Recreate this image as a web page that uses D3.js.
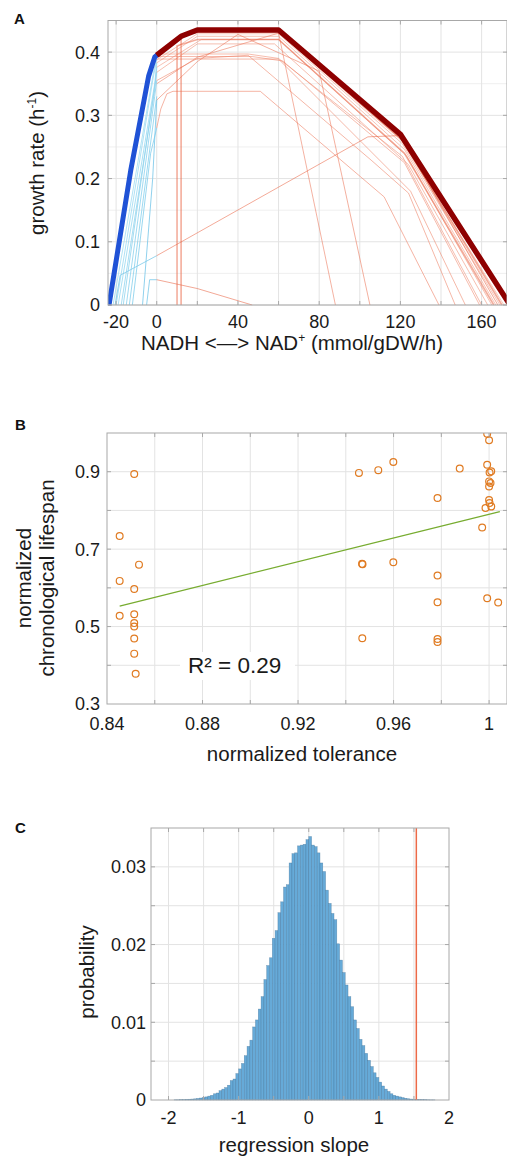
<!DOCTYPE html>
<html>
<head>
<meta charset="utf-8">
<script src="https://cdn.jsdelivr.net/npm/d3@7"></script>
<style>
  body { margin: 0; background: #fff; }
  svg { display: block; font-family: "Liberation Sans", Arial, Helvetica, sans-serif; }
</style>
</head>
<body>
<svg id="fig" width="507" height="1158"></svg>
<script>
// ---- Panel A: growth rate vs NADH <-> NAD+ exchange ----
const aTicksX = [-20, 0, 40, 80, 120, 160];
const aTicksY = [0, 0.1, 0.2, 0.3, 0.4];
const thickBlue = [[-23.5, 0], [-12.8, 0.213], [-4, 0.362], [-1, 0.392], [0, 0.395]];
const thickRed = [[0, 0.395], [12, 0.425], [20, 0.435], [60, 0.435], [120, 0.27], [174, 0]];
const blueTraces = [
  [[-21.5, 0], [-1.5, 0.37], [0, 0.392]],
  [[-20, 0], [-2, 0.355], [0, 0.388]],
  [[-19, 0], [-1, 0.35], [0, 0.383]],
  [[-17.5, 0], [-1, 0.34], [0, 0.376]],
  [[-16.5, 0], [0, 0.368]],
  [[-15, 0], [-1, 0.33], [0, 0.355]],
  [[-13.5, 0], [0, 0.33]],
  [[-12, 0], [-3, 0.24], [0, 0.28]],
  [[-20.5, 0], [-18, 0.047], [0, 0.078]],
  [[-5, 0], [-3.5, 0.04], [0, 0.04]],
  [[-7, 0], [-2, 0.2], [0, 0.324]]
];
const redTraces = [
  [[0, 0.392], [12, 0.423], [20, 0.433], [60, 0.433], [120, 0.263], [171, 0]],
  [[0, 0.388], [20, 0.429], [60, 0.429], [121, 0.255], [169, 0]],
  [[0, 0.383], [20, 0.425], [60, 0.425], [122, 0.246], [167, 0]],
  [[0, 0.376], [22, 0.42], [60, 0.42], [123, 0.236], [165, 0]],
  [[0, 0.368], [20, 0.413], [58, 0.413], [124, 0.222], [163, 0]],
  [[0, 0.397], [45, 0.397], [60, 0.39], [121, 0.235], [160, 0]],
  [[0, 0.393], [47, 0.393], [62, 0.386], [122, 0.225], [159, 0]],
  [[0, 0.389], [60, 0.389], [125, 0.18], [152, 0]],
  [[0, 0.355], [20, 0.39], [45, 0.395], [106, 0.228], [124, 0.177], [147, 0]],
  [[0, 0.28], [2, 0.31], [5, 0.334], [8, 0.338], [51, 0.338], [112, 0.171], [139, 0]],
  [[0, 0.35], [20, 0.392], [60, 0.43], [88, 0]],
  [[0, 0.324], [20, 0.385], [40, 0.428], [80, 0.37], [105, 0]],
  [[10, 0], [10, 0.41], [20, 0.42], [60, 0.42], [122, 0.24], [166, 0]],
  [[12, 0], [12, 0.425], [20, 0.432], [60, 0.432], [121, 0.26], [170, 0]],
  [[0, 0.078], [104, 0.266], [120, 0.268], [168, 0]],
  [[0, 0.04], [20, 0.026], [47, 0]]
];

// ---- Panel B: lifespan vs tolerance ----
const bTicksX = [0.84, 0.88, 0.92, 0.96, 1];
const bTicksY = [0.3, 0.5, 0.7, 0.9];
const tolerance = [
  0.8514, 0.8453, 0.8534, 0.8453, 0.8514, 0.8453, 0.8514, 0.8514, 0.8514, 0.8514, 0.8514, 0.8520,
  0.9455, 0.9536, 0.9599, 0.9468, 0.9470, 0.9599, 0.9469,
  0.9784, 0.9784, 0.9784, 0.9784, 0.9784, 0.9877,
  0.9992, 1.0000, 0.9992, 1.0002, 1.0009, 1.0000, 1.0006, 1.0000, 1.0000, 1.0002, 0.9985, 1.0009,
  0.9971, 0.9992, 1.0038
];
const lifespan = [
  0.894, 0.734, 0.660, 0.618, 0.597, 0.528, 0.532, 0.509, 0.500, 0.469, 0.430, 0.378,
  0.897, 0.904, 0.925, 0.662, 0.661, 0.666, 0.470,
  0.832, 0.632, 0.563, 0.468, 0.460, 0.908,
  0.998, 0.981, 0.918, 0.898, 0.901, 0.875, 0.871, 0.862, 0.827, 0.819, 0.806, 0.810,
  0.756, 0.573, 0.562
];
const fitX = [0.8453, 1.0045];
const fitY = [0.553, 0.797];
const rSquared = 0.29;

// ---- Panel C: permutation distribution of regression slope ----
const cTicksX = [-2, -1, 0, 1, 2];
const cTicksY = [0, 0.01, 0.02, 0.03];
const binStart = -1.92;
const binWidth = 0.04;
const slopeProb = [
  0.00003, 0.00003, 0.00005, 0.00005, 0.00008, 0.0001, 0.00012, 0.00015, 0.0002, 0.00025,
  0.0003, 0.0004, 0.0005, 0.0006, 0.0008, 0.0009, 0.0012, 0.0014, 0.0016, 0.0019,
  0.0025, 0.0027, 0.0034, 0.0040, 0.0047, 0.0057, 0.0069, 0.0077, 0.0094, 0.0103,
  0.0117, 0.0133, 0.0155, 0.0173, 0.0183, 0.0208, 0.0218, 0.0241, 0.0255, 0.0274,
  0.0277, 0.0305, 0.0317, 0.0318, 0.0327, 0.0328, 0.0329, 0.0335, 0.0339, 0.0328,
  0.0326, 0.0318, 0.0305, 0.0294, 0.0270, 0.0253, 0.0240, 0.0232, 0.0201, 0.0180,
  0.0164, 0.0148, 0.0133, 0.0120, 0.0103, 0.0092, 0.0078, 0.0070, 0.0060, 0.0051,
  0.0043, 0.0035, 0.0029, 0.0023, 0.0018, 0.0014, 0.0011, 0.0008, 0.0006, 0.0005,
  0.0004, 0.0003, 0.00022, 0.00016, 0.00012, 0.0001, 0.00008, 0.00006, 0.00005, 0.00004,
  0.00003, 0.00002, 0.00002
];
const observedSlope = 1.534;

const svg = d3.select("#fig");
const fmt = d => String(+d.toFixed(4));
const labelSize = 20.5;

// Draws the grid lines of one panel
function drawFrame(g, x, y, o) {
  const [x0, x1] = x.range();
  const [y0, y1] = y.range();
  g.append("g").selectAll("line").data(o.yMinor || []).join("line")
    .attr("x1", x0).attr("x2", x1).attr("y1", d => y(d)).attr("y2", d => y(d))
    .attr("stroke", "#efefef").attr("stroke-width", 1);
  g.append("g").selectAll("line").data(o.yGrid).join("line")
    .attr("x1", x0).attr("x2", x1).attr("y1", d => y(d)).attr("y2", d => y(d))
    .attr("stroke", "#e3e3e3").attr("stroke-width", 1);
  g.append("g").selectAll("line").data(o.xGrid).join("line")
    .attr("x1", d => x(d)).attr("x2", d => x(d)).attr("y1", y0).attr("y2", y1)
    .attr("stroke", "#e3e3e3").attr("stroke-width", 1);
}

// Box, inward ticks and tick labels
function drawBox(g, x, y, o) {
  const [x0, x1] = x.range();
  const [y0, y1] = y.range();
  g.append("rect").attr("x", x0).attr("y", y1).attr("width", x1 - x0).attr("height", y0 - y1)
    .attr("fill", "none").attr("stroke", "#a8a8a8").attr("stroke-width", 1);
  const tk = g.append("g").attr("stroke", "#a8a8a8");
  o.xGrid.forEach(d => {
    tk.append("line").attr("x1", x(d)).attr("x2", x(d)).attr("y1", y0).attr("y2", y0 - 4);
    tk.append("line").attr("x1", x(d)).attr("x2", x(d)).attr("y1", y1).attr("y2", y1 + 4);
  });
  o.yGrid.forEach(d => {
    tk.append("line").attr("x1", x0).attr("x2", x0 + 4).attr("y1", y(d)).attr("y2", y(d));
    tk.append("line").attr("x1", x1).attr("x2", x1 - 4).attr("y1", y(d)).attr("y2", y(d));
  });
  g.append("g").selectAll("text").data(o.xTicks).join("text")
    .attr("x", d => x(d)).attr("y", o.xLabelY)
    .attr("text-anchor", "middle").attr("font-size", o.fs).attr("fill", "#1a1a1a")
    .text(fmt);
  g.append("g").selectAll("text").data(o.yTicks).join("text")
    .attr("x", x0 - o.yPad).attr("y", d => y(d)).attr("dy", "0.36em")
    .attr("text-anchor", "end").attr("font-size", o.fs).attr("fill", "#1a1a1a")
    .text(fmt);
}

function panelLetter(txt, px, py) {
  svg.append("text").attr("x", px).attr("y", py)
    .attr("font-size", 15).attr("font-weight", "bold").attr("fill", "#111").text(txt);
}

// ================= Panel A =================
{
  const x = d3.scaleLinear([-24, 172.5], [108, 507]);
  const y = d3.scaleLinear([0, 0.45], [305, 20.5]);
  const g = svg.append("g");
  const opts = {
    xGrid: d3.range(-20, 161, 20), yGrid: aTicksY,
    yMinor: [0.05, 0.15, 0.25, 0.35, 0.45],
    xTicks: aTicksX, yTicks: aTicksY, xLabelY: 328, yPad: 8, fs: 18
  };
  drawFrame(g, x, y, opts);
  g.append("clipPath").attr("id", "clipA").append("rect")
    .attr("x", 108).attr("y", 20.5).attr("width", 399).attr("height", 285);
  const plot = g.append("g").attr("clip-path", "url(#clipA)");
  const line = d3.line().x(d => x(d[0])).y(d => y(d[1]));
  const blueCol = d3.scaleLinear().domain([0, blueTraces.length - 1]).range(["#9fdcf2", "#74c6e8"]);
  plot.selectAll(".bt").data(blueTraces).join("path").attr("class", "bt")
    .attr("d", line).attr("fill", "none")
    .attr("stroke", (d, i) => blueCol(i)).attr("stroke-width", 1).attr("stroke-opacity", 0.8);
  const redCol = d3.scaleLinear().domain([0, redTraces.length - 1]).range(["#f29a82", "#e8603f"]);
  plot.selectAll(".rt").data(redTraces).join("path").attr("class", "rt")
    .attr("d", line).attr("fill", "none")
    .attr("stroke", (d, i) => redCol(i)).attr("stroke-width", (d, i) => i >= 12 && i <= 13 ? 1.6 : 1)
    .attr("stroke-opacity", 0.55);
  plot.append("path").datum(thickBlue).attr("d", line).attr("fill", "none")
    .attr("stroke", "#1f52d6").attr("stroke-width", 5).attr("stroke-linejoin", "round").attr("stroke-linecap", "round");
  plot.append("path").datum(thickRed).attr("d", line).attr("fill", "none")
    .attr("stroke", "#8e0000").attr("stroke-width", 5.5).attr("stroke-linejoin", "round");
  drawBox(g, x, y, opts);

  const xl = svg.append("text").attr("x", 292).attr("y", 350).attr("text-anchor", "middle")
    .attr("font-size", labelSize).attr("fill", "#1a1a1a");
  xl.append("tspan").text("NADH <\u2014> NAD");
  xl.append("tspan").attr("font-size", 12).attr("dy", -8).text("+");
  xl.append("tspan").attr("dy", 8).text(" (mmol/gDW/h)");

  const yl = svg.append("text").attr("transform", "translate(44,163) rotate(-90)")
    .attr("text-anchor", "middle").attr("font-size", labelSize).attr("fill", "#1a1a1a");
  yl.append("tspan").text("growth rate (h");
  yl.append("tspan").attr("font-size", 12).attr("dy", -8).text("-1");
  yl.append("tspan").attr("dy", 8).text(")");
  panelLetter("A", 14, 24);
}

// ================= Panel B =================
{
  const x = d3.scaleLinear([0.84, 1.0075], [107, 507]);
  const y = d3.scaleLinear([0.3, 1.0], [704, 433]);
  const g = svg.append("g");
  const opts = {
    xGrid: [0.86, 0.88, 0.9, 0.92, 0.94, 0.96, 0.98, 1.0],
    yGrid: [0.4, 0.5, 0.6, 0.7, 0.8, 0.9],
    xTicks: bTicksX, yTicks: bTicksY, xLabelY: 730, yPad: 7, fs: 18
  };
  drawFrame(g, x, y, opts);
  g.append("clipPath").attr("id", "clipB").append("rect")
    .attr("x", 107).attr("y", 433).attr("width", 400).attr("height", 271);
  const plot = g.append("g").attr("clip-path", "url(#clipB)");
  // R^2 annotation sits on a white patch that hides the grid
  plot.append("rect").attr("x", 180).attr("y", 652).attr("width", 115).attr("height", 28).attr("fill", "#fff");
  plot.append("line")
    .attr("x1", x(fitX[0])).attr("y1", y(fitY[0]))
    .attr("x2", x(fitX[1])).attr("y2", y(fitY[1]))
    .attr("stroke", "#77ac30").attr("stroke-width", 1.3);
  plot.selectAll("circle").data(tolerance.map((t, i) => [t, lifespan[i]])).join("circle")
    .attr("cx", d => x(d[0])).attr("cy", d => y(d[1])).attr("r", 3.4)
    .attr("fill", "none").attr("stroke", "#e07b22").attr("stroke-width", 1.2);
  drawBox(g, x, y, opts);
  svg.append("text").attr("x", 188).attr("y", 673).attr("font-size", 22.5).attr("fill", "#1a1a1a")
    .text(`R\u00b2 = ${rSquared}`);

  svg.append("text").attr("x", 302).attr("y", 761).attr("text-anchor", "middle")
    .attr("font-size", labelSize).attr("fill", "#1a1a1a").text("normalized tolerance");
  svg.append("text").attr("transform", "translate(31,578) rotate(-90)")
    .attr("text-anchor", "middle").attr("font-size", labelSize).attr("fill", "#1a1a1a").text("normalized");
  svg.append("text").attr("transform", "translate(54,578) rotate(-90)")
    .attr("text-anchor", "middle").attr("font-size", labelSize).attr("fill", "#1a1a1a").text("chronological lifespan");
  panelLetter("B", 15, 430);
}

// ================= Panel C =================
{
  const x = d3.scaleLinear([-2.25, 2], [151, 449]);
  const y = d3.scaleLinear([0, 0.035], [1100, 828]);
  const g = svg.append("g");
  const opts = {
    xGrid: [-2, -1.5, -1, -0.5, 0, 0.5, 1, 1.5],
    yGrid: [0.005, 0.01, 0.015, 0.02, 0.025, 0.03],
    xTicks: cTicksX, yTicks: cTicksY, xLabelY: 1124, yPad: 5, fs: 18
  };
  drawFrame(g, x, y, opts);
  const bins = slopeProb.map((p, i) => ({ x0: binStart + i * binWidth, x1: binStart + (i + 1) * binWidth, p }));
  g.append("g").selectAll("rect").data(bins).join("rect")
    .attr("x", d => x(d.x0)).attr("width", d => x(d.x1) - x(d.x0))
    .attr("y", d => y(d.p)).attr("height", d => y(0) - y(d.p))
    .attr("fill", "#66aad8").attr("stroke", "#3a6d92").attr("stroke-width", 0.5).attr("stroke-opacity", 0.6);
  g.append("line").attr("x1", x(observedSlope)).attr("x2", x(observedSlope))
    .attr("y1", 828).attr("y2", 1100).attr("stroke", "#ec6a48").attr("stroke-width", 1.5);
  drawBox(g, x, y, opts);

  svg.append("text").attr("x", 294).attr("y", 1152).attr("text-anchor", "middle")
    .attr("font-size", labelSize).attr("fill", "#1a1a1a").text("regression slope");
  svg.append("text").attr("transform", "translate(94,972) rotate(-90)")
    .attr("text-anchor", "middle").attr("font-size", labelSize).attr("fill", "#1a1a1a").text("probability");
  panelLetter("C", 15, 833);
}
</script>
</body>
</html>
